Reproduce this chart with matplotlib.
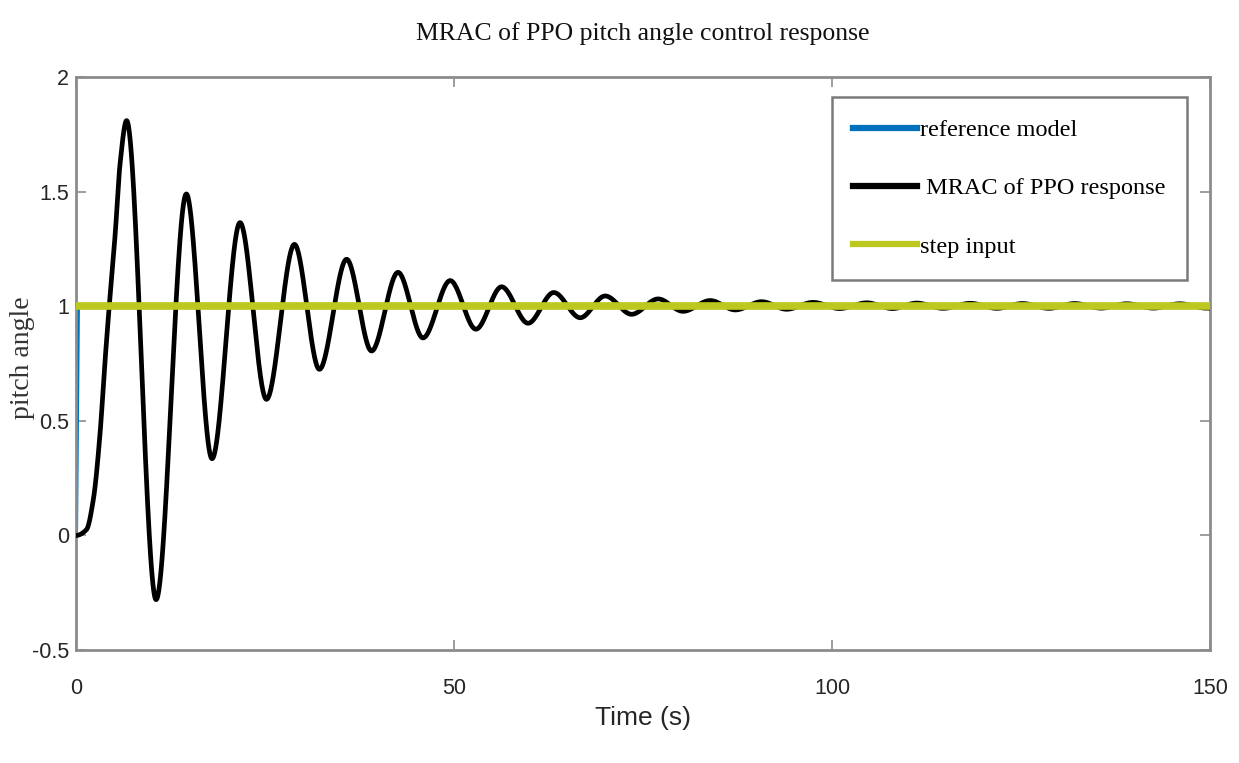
import matplotlib
matplotlib.use('Agg')
import matplotlib.pyplot as plt
import numpy as np

# key points of the MRAC/PPO response (time s, pitch angle)
resp_t = [0.0, 1.4, 2.3, 3.2, 3.8, 4.4, 5.2, 5.8, 6.7,
          10.6, 14.6, 18.0, 21.7, 25.2, 28.9, 32.2, 35.8, 39.1, 42.6, 45.9,
          49.5, 52.9, 56.3, 59.8, 63.2, 66.7, 70.0, 73.5, 77.0, 80.3,
          83.9, 87.2, 90.7, 94.0, 97.5, 101.0, 104.6, 108.0, 111.2, 114.7,
          118.3, 121.8, 125.2, 128.7, 132.1, 135.6, 139.0, 142.5, 146.0, 149.5]
resp_y = [0.0, 0.026, 0.157, 0.45, 0.74, 1.0, 1.32, 1.61, 1.81,
          -0.28, 1.49, 0.335, 1.365, 0.594, 1.27, 0.725, 1.205, 0.805, 1.148, 0.862,
          1.112, 0.90, 1.085, 0.926, 1.06, 0.95, 1.045, 0.965, 1.032, 0.978,
          1.025, 0.984, 1.02, 0.987, 1.017, 0.99, 1.015, 0.99, 1.014, 0.991,
          1.013, 0.991, 1.012, 0.991, 1.012, 0.992, 1.011, 0.992, 1.011, 0.992]

ref_t = [0.0, 0.25, 150.0]
ref_y = [0.0, 1.0, 1.0]

step_t = [0.0, 150.0]
step_y = [1.0, 1.0]

labels = ['reference model', ' MRAC of PPO response', 'step input']


def pchip(x, y, xs):
    # monotone cubic through the read-off points (flat at the extrema)
    x = np.asarray(x, float)
    y = np.asarray(y, float)
    h = np.diff(x)
    dl = np.diff(y) / h
    d = np.zeros_like(y)
    for k in range(1, len(x) - 1):
        if dl[k - 1] * dl[k] > 0:
            w1 = 2 * h[k] + h[k - 1]
            w2 = h[k] + 2 * h[k - 1]
            d[k] = (w1 + w2) / (w1 / dl[k - 1] + w2 / dl[k])
    i = np.clip(np.searchsorted(x, xs) - 1, 0, len(x) - 2)
    s = (xs - x[i]) / h[i]
    h00 = 2 * s**3 - 3 * s**2 + 1
    h10 = s**3 - 2 * s**2 + s
    h01 = -2 * s**3 + 3 * s**2
    h11 = s**3 - s**2
    return h00 * y[i] + h10 * h[i] * d[i] + h01 * y[i + 1] + h11 * h[i] * d[i + 1]


ts = np.linspace(resp_t[0], 150, 6000)
ys = pchip(resp_t, resp_y, np.minimum(ts, resp_t[-1]))

sans = ['Liberation Sans Narrow', 'Liberation Sans', 'DejaVu Sans']
serif = ['Liberation Serif', 'DejaVu Serif']

fig = plt.figure(figsize=(12.39, 7.63), dpi=100)
ax = fig.add_axes([0.0613, 0.148, 0.9153, 0.751])

ax.plot(ref_t, ref_y, color='#0072BD', lw=3.0, label=labels[0], zorder=2)
ax.plot(ts, ys, color='black', lw=3.4, label=labels[1], zorder=3)
ax.plot(step_t, step_y, color='#bcc81e', lw=5.5, label=labels[2], zorder=4)

ax.set_xlim(0, 150)
ax.set_ylim(-0.5, 2)
ax.set_xticks([0, 50, 100, 150])
ax.set_yticks([-0.5, 0, 0.5, 1, 1.5, 2])
ax.set_yticklabels(['-0.5', '0', '0.5', '1', '1.5', '2'])

for sp in ax.spines.values():
    sp.set_color('#8c8c8c')
    sp.set_linewidth(2.0)
ax.tick_params(direction='in', length=7, width=1.2, color='#8c8c8c',
               top=True, right=True, labelsize=15.5, labelcolor='#262626')
ax.tick_params(axis='x', pad=20)
ax.tick_params(axis='y', pad=5)
for lab in ax.get_xticklabels() + ax.get_yticklabels():
    lab.set_family(sans)

ax.set_title('MRAC of PPO pitch angle control response', family=serif,
             fontsize=18.5, pad=27, color='#111111')
ax.set_xlabel('Time (s)', family=sans, fontsize=19, labelpad=5, color='#262626')
ax.set_ylabel('pitch angle', family=serif, fontsize=20, color='#333333')
ax.yaxis.set_label_coords(-0.036, 0.51)

leg = ax.legend(loc='upper right', bbox_to_anchor=(0.9797, 0.965),
                borderaxespad=0.0,
                prop={'family': serif, 'size': 17.5}, frameon=True, fancybox=False,
                framealpha=1, edgecolor='#7a7a7a', handlelength=2.6,
                handletextpad=0.12, labelspacing=1.5, borderpad=0.9)
leg.get_frame().set_linewidth(1.8)
for line in leg.get_lines():
    line.set_linewidth(4.5)

fig.savefig('out.png', dpi=100)
